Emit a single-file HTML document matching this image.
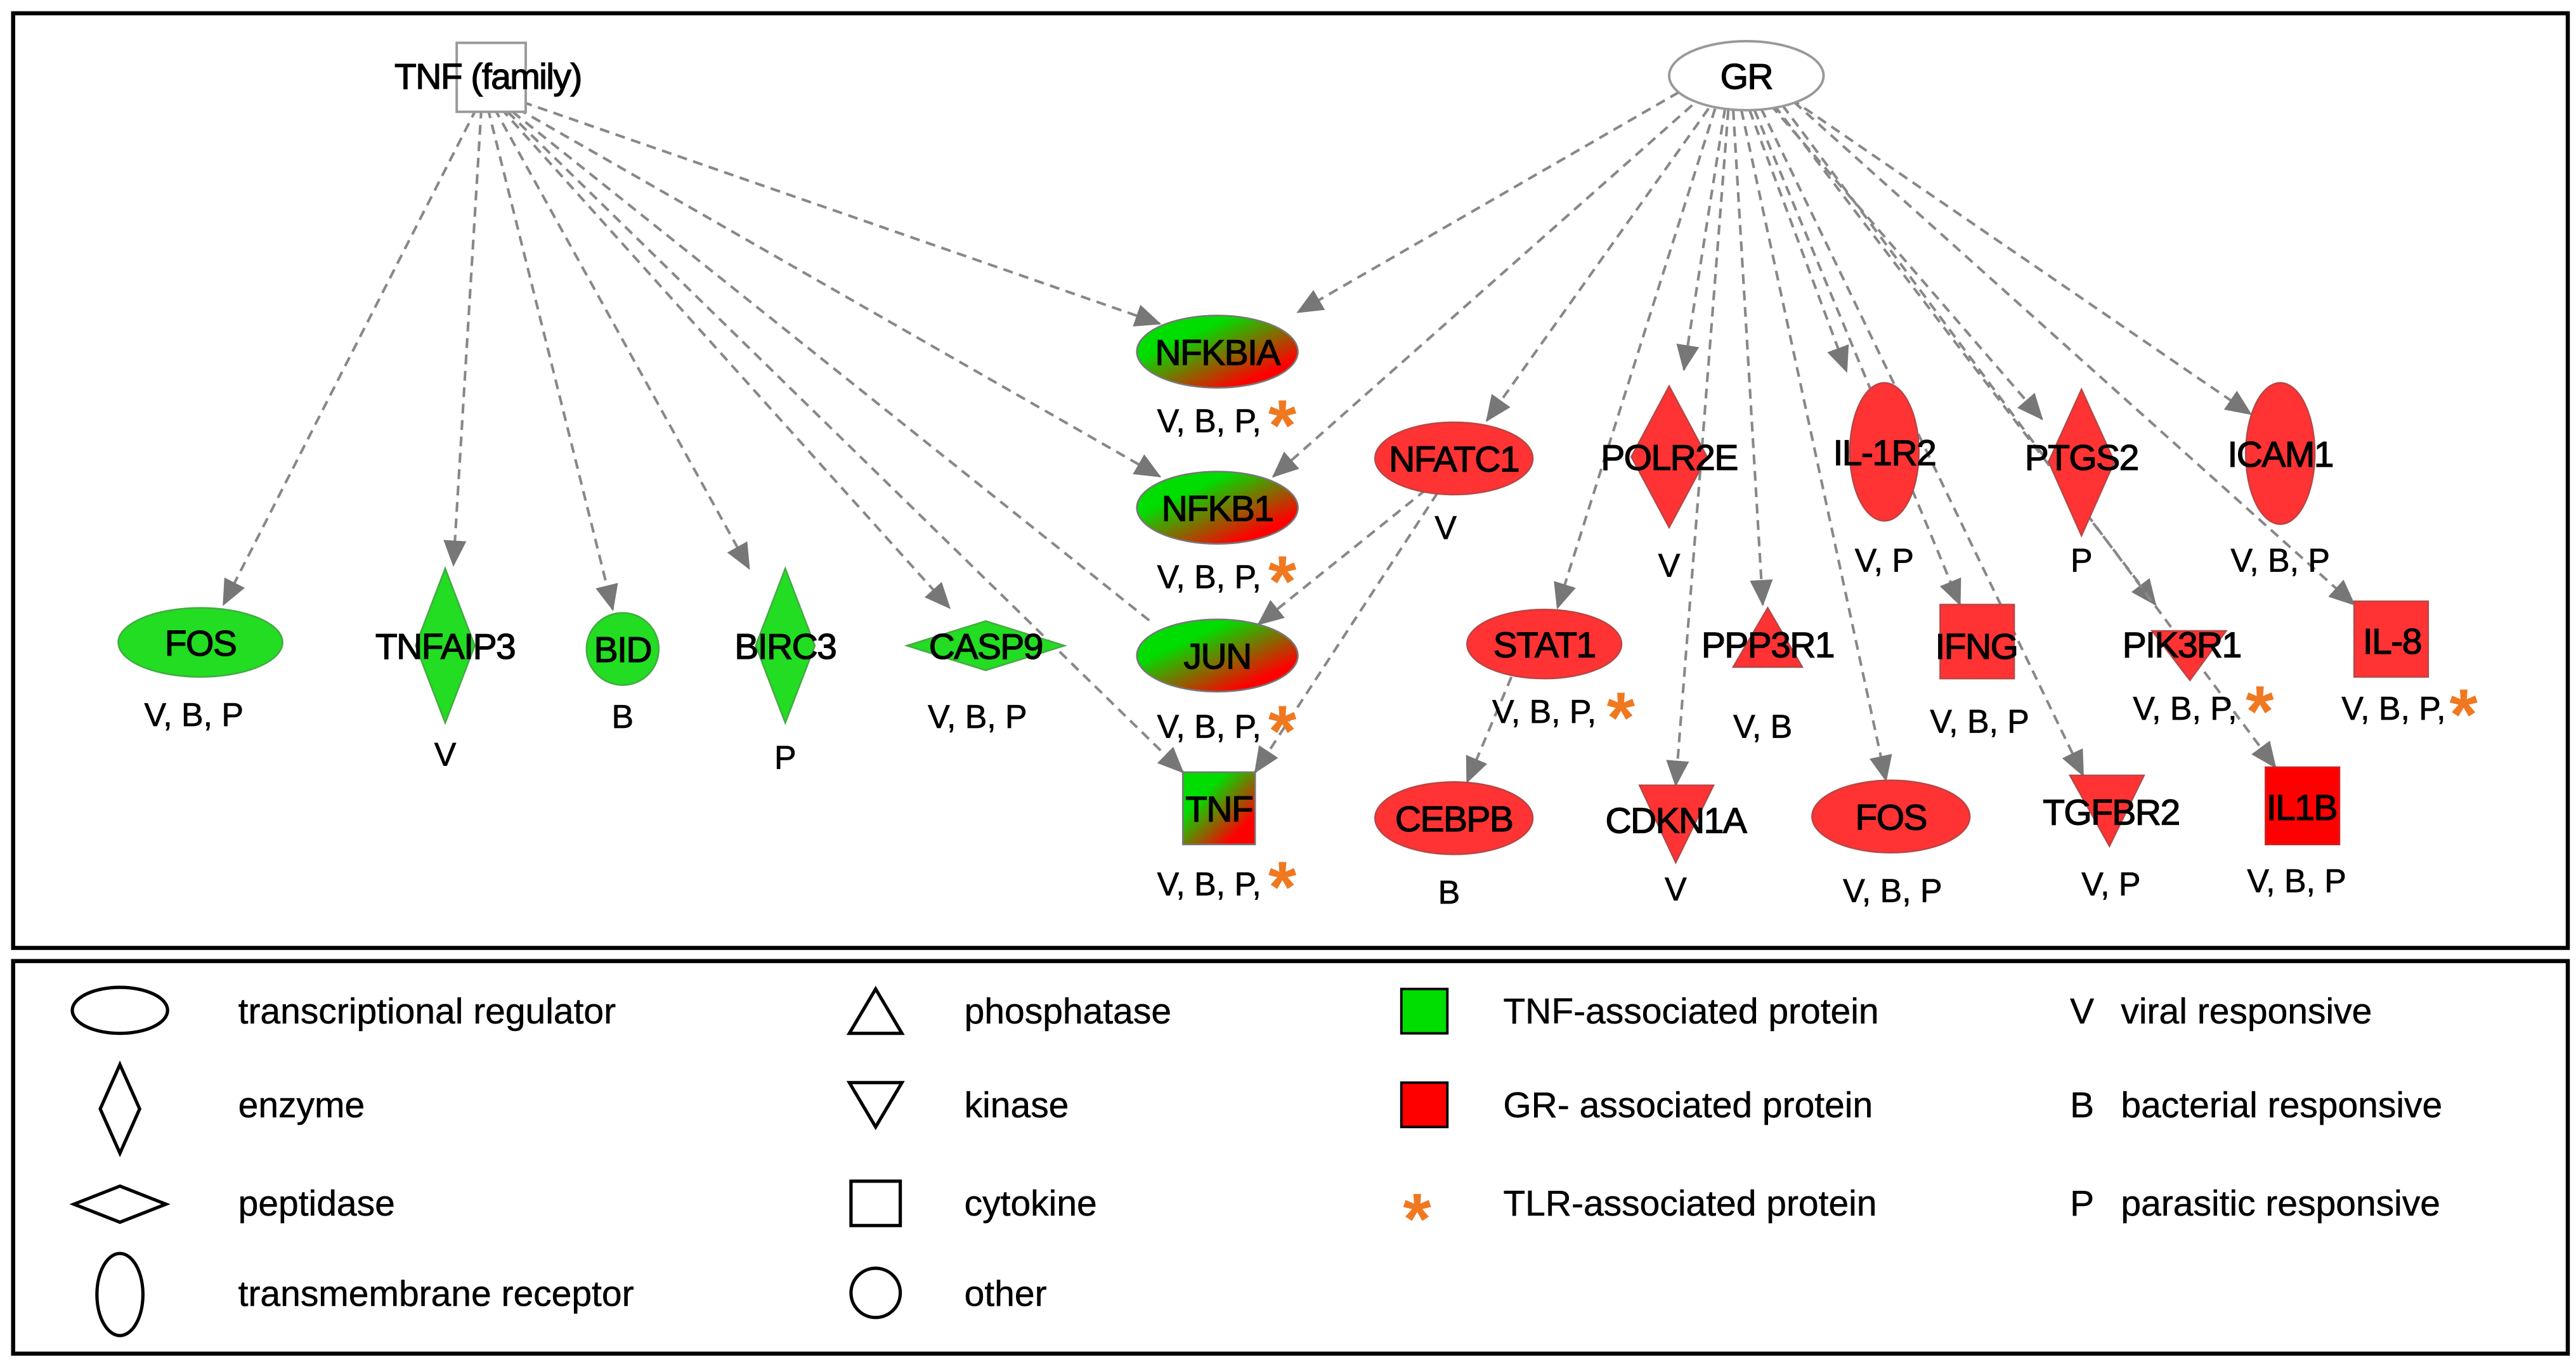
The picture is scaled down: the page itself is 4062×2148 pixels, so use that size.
<!DOCTYPE html>
<html><head><meta charset="utf-8"><style>
html,body{margin:0;padding:0;background:#fff;}
svg{display:block;}
text{font-family:"Liberation Sans",Arial,sans-serif;}
.n{font-size:22px;text-anchor:middle;fill:#000;letter-spacing:-0.6px;stroke:#000;stroke-width:0.5;}
.l{font-size:20px;text-anchor:middle;fill:#000;stroke:#000;stroke-width:0.3;}
.lg{font-size:22px;fill:#000;stroke:#000;stroke-width:0.2;}
.st{font-size:44px;fill:#f07820;font-weight:bold;}
.e{stroke:#888;stroke-width:1.6;stroke-dasharray:6,4;fill:none;marker-end:url(#a);}
.r{fill:#f33;stroke:#b44;stroke-width:1;}
.g{fill:#2d2;stroke:#4a4;stroke-width:1;}
.s{fill:none;stroke:#000;stroke-width:2;}
</style></head><body>
<svg width="4062" height="2148" viewBox="0 0 1568 829" xmlns="http://www.w3.org/2000/svg">
<defs>
<marker id="a" markerUnits="userSpaceOnUse" markerWidth="16" markerHeight="14" refX="15" refY="7" orient="auto"><path d="M0,0 L16,7 L0,14 Z" fill="#777"/></marker>
<linearGradient id="gr" x1="0" y1="0" x2="1" y2="1"><stop offset="0.3" stop-color="#0d0"/><stop offset="0.8" stop-color="#f00"/></linearGradient>
</defs>
<rect x="0" y="0" width="1568" height="829" fill="#fff"/>
<rect x="8" y="8" width="1555" height="569" fill="none" stroke="#000" stroke-width="2.5"/>
<rect x="8" y="585" width="1555" height="239" fill="none" stroke="#000" stroke-width="2.5"/>

<g>
<path class="e" d="M290,66 L136,368"/>
<path class="e" d="M293,66 L276,344"/>
<path class="e" d="M297,66 L373,371"/>
<path class="e" d="M301,66 L456,346"/>
<path class="e" d="M305,66 L578,370"/>
<path class="e" d="M318,62 L706,197"/>
<path class="e" d="M315,66 L706,290"/>
<path class="e" d="M312,68 L700,378" style="marker-end:none"/>
<path class="e" d="M309,68 L720,470"/>
<path class="e" d="M1022,56 L790,190"/>
<path class="e" d="M1030,64 L775,290"/>
<path class="e" d="M1040,66 L905,256"/>
<path class="e" d="M1044,66 L948,370"/>
<path class="e" d="M1050,66 L1025,225"/>
<path class="e" d="M1055,67 L1073,368"/>
<path class="e" d="M1052,67 L1020,478"/>
<path class="e" d="M1060,67 L1148,475"/>
<path class="e" d="M1065,67 L1124,226"/>
<path class="e" d="M1068,67 L1193,368"/>
<path class="e" d="M1072,66 L1268,472"/>
<path class="e" d="M1078,64 L1243,255"/>
<path class="e" d="M1080,64 L1312,368"/>
<path class="e" d="M1090,60 L1370,252"/>
<path class="e" d="M1092,62 L1433,368"/>
<path class="e" d="M1085,64 L1385,467"/>
<path class="e" d="M868,298 L766,380"/>
<path class="e" d="M875,300 L764,470"/>
<path class="e" d="M920,412 L893,476"/>
</g>

<rect x="278" y="26" width="42" height="42" fill="#fff" stroke="#999" stroke-width="1.5"/>
<text x="297" y="54" class="n">TNF (family)</text>
<ellipse cx="1063" cy="46" rx="47" ry="21" fill="#fff" stroke="#999" stroke-width="1.5"/>
<text x="1063" y="54" class="n">GR</text>

<ellipse cx="741" cy="214" rx="49" ry="22" fill="url(#gr)" stroke="#777"/>
<text x="741" y="222" class="n">NFKBIA</text>
<text x="736" y="263" class="l">V, B, P,</text><text x="772" y="274" class="st">*</text>
<ellipse cx="741" cy="309" rx="49" ry="22" fill="url(#gr)" stroke="#777"/>
<text x="741" y="317" class="n">NFKB1</text>
<text x="736" y="358" class="l">V, B, P,</text><text x="772" y="369" class="st">*</text>
<ellipse cx="741" cy="399" rx="49" ry="22" fill="url(#gr)" stroke="#777"/>
<text x="741" y="407" class="n">JUN</text>
<text x="736" y="449" class="l">V, B, P,</text><text x="772" y="460" class="st">*</text>
<rect x="720" y="470" width="44" height="44" fill="url(#gr)" stroke="#777"/>
<text x="742" y="500" class="n">TNF</text>
<text x="736" y="545" class="l">V, B, P,</text><text x="772" y="555" class="st">*</text>

<ellipse cx="122" cy="391" rx="50" ry="21" class="g"/>
<text x="122" y="399" class="n">FOS</text>
<text x="118" y="442" class="l">V, B, P</text>
<path d="M271,346 L289,393 L271,440 L253,393 Z" class="g"/>
<text x="271" y="401" class="n">TNFAIP3</text>
<text x="271" y="466" class="l">V</text>
<circle cx="379" cy="395" r="22" class="g"/>
<text x="379" y="403" class="n">BID</text>
<text x="379" y="443" class="l">B</text>
<path d="M478,346 L496,393 L478,440 L460,393 Z" class="g"/>
<text x="478" y="401" class="n">BIRC3</text>
<text x="478" y="468" class="l">P</text>
<path d="M600,378 L648,393 L600,408 L552,393 Z" class="g"/>
<text x="600" y="401" class="n">CASP9</text>
<text x="595" y="443" class="l">V, B, P</text>

<ellipse cx="885" cy="279" rx="48" ry="22" class="r"/>
<text x="885" y="287" class="n">NFATC1</text>
<text x="880" y="328" class="l">V</text>
<path d="M1016,235 L1039,278 L1016,321 L993,278 Z" class="r"/>
<text x="1016" y="286" class="n">POLR2E</text>
<text x="1016" y="351" class="l">V</text>
<ellipse cx="1147" cy="275" rx="21" ry="42" class="r"/>
<text x="1147" y="283" class="n">IL-1R2</text>
<text x="1147" y="348" class="l">V, P</text>
<path d="M1267,237 L1287,281 L1267,326 L1247,281 Z" class="r"/>
<text x="1267" y="286" class="n">PTGS2</text>
<text x="1267" y="348" class="l">P</text>
<ellipse cx="1388" cy="276" rx="21" ry="43" class="r"/>
<text x="1388" y="284" class="n">ICAM1</text>
<text x="1388" y="348" class="l">V, B, P</text>

<ellipse cx="940" cy="392" rx="47" ry="21" class="r"/>
<text x="940" y="400" class="n">STAT1</text>
<text x="940" y="440" class="l">V, B, P,</text><text x="978" y="452" class="st">*</text>
<path d="M1076,370 L1097,406 L1055,406 Z" class="r"/>
<text x="1076" y="400" class="n">PPP3R1</text>
<text x="1073" y="449" class="l">V, B</text>
<rect x="1181" y="368" width="45" height="45" class="r"/>
<text x="1203" y="401" class="n">IFNG</text>
<text x="1205" y="446" class="l">V, B, P</text>
<path d="M1310,384 L1355,384 L1333,414 Z" class="r"/>
<text x="1328" y="400" class="n">PIK3R1</text>
<text x="1330" y="438" class="l">V, B, P,</text><text x="1367" y="448" class="st">*</text>
<rect x="1433" y="366" width="45" height="46" class="r"/>
<text x="1456" y="398" class="n">IL-8</text>
<text x="1457" y="438" class="l">V, B, P,</text><text x="1491" y="450" class="st">*</text>

<ellipse cx="885" cy="498" rx="48" ry="22" class="r"/>
<text x="885" y="506" class="n">CEBPB</text>
<text x="882" y="550" class="l">B</text>
<path d="M998,478 L1043,478 L1020,525 Z" class="r"/>
<text x="1020" y="507" class="n">CDKN1A</text>
<text x="1020" y="548" class="l">V</text>
<ellipse cx="1151" cy="497" rx="48" ry="22" class="r"/>
<text x="1151" y="505" class="n">FOS</text>
<text x="1152" y="549" class="l">V, B, P</text>
<path d="M1260,472 L1305,472 L1284,515 Z" class="r"/>
<text x="1285" y="502" class="n">TGFBR2</text>
<text x="1285" y="545" class="l">V, P</text>
<rect x="1379" y="467" width="45" height="47" fill="#f00" stroke="#c22"/>
<text x="1401" y="499" class="n">IL1B</text>
<text x="1398" y="543" class="l">V, B, P</text>

<ellipse cx="73" cy="615" rx="29" ry="14" class="s"/>
<text x="145" y="623" class="lg">transcriptional regulator</text>
<path d="M73,648 L85,675 L73,702 L61,675 Z" class="s"/>
<text x="145" y="680" class="lg">enzyme</text>
<path d="M73,722 L101,733 L73,744 L45,733 Z" class="s"/>
<text x="145" y="740" class="lg">peptidase</text>
<ellipse cx="73" cy="788" rx="14" ry="25" class="s"/>
<text x="145" y="795" class="lg">transmembrane receptor</text>

<path d="M533,602 L549,629 L517,629 Z" class="s"/>
<text x="587" y="623" class="lg">phosphatase</text>
<path d="M517,659 L549,659 L533,686 Z" class="s"/>
<text x="587" y="680" class="lg">kinase</text>
<rect x="518" y="719" width="30" height="27" class="s"/>
<text x="587" y="740" class="lg">cytokine</text>
<circle cx="533" cy="787" r="15" class="s"/>
<text x="587" y="795" class="lg">other</text>

<rect x="853" y="602" width="28" height="27" fill="#0d0" stroke="#000" stroke-width="1.5"/>
<text x="915" y="623" class="lg">TNF-associated protein</text>
<rect x="853" y="659" width="28" height="27" fill="#f00" stroke="#000" stroke-width="1.5"/>
<text x="915" y="680" class="lg">GR- associated protein</text>
<text x="854" y="757" class="st">*</text>
<text x="915" y="740" class="lg">TLR-associated protein</text>

<text x="1260" y="623" class="lg">V</text>
<text x="1291" y="623" class="lg">viral responsive</text>
<text x="1260" y="680" class="lg">B</text>
<text x="1291" y="680" class="lg">bacterial responsive</text>
<text x="1260" y="740" class="lg">P</text>
<text x="1291" y="740" class="lg">parasitic responsive</text>
</svg>
</body></html>
